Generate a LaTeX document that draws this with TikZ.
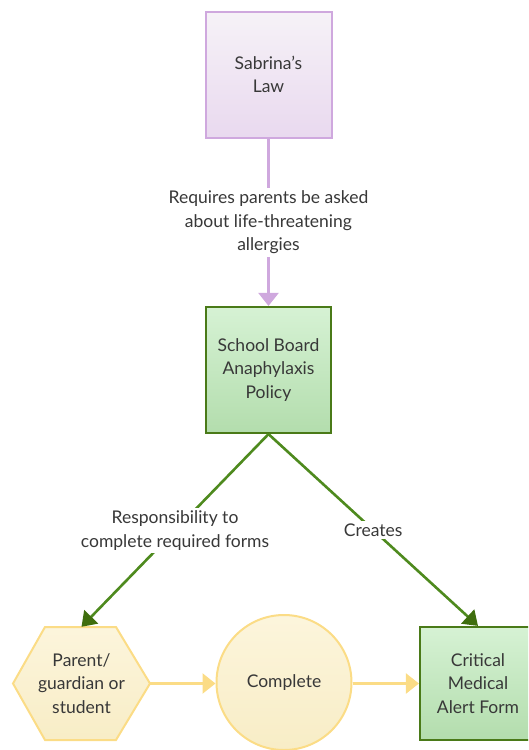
\documentclass[tikz,border=0pt]{standalone}
\usepackage{fontspec}
\setmainfont{Lato}
\usetikzlibrary{arrows.meta,shapes.geometric}

\definecolor{txt}{HTML}{383838}
\definecolor{purpEdge}{HTML}{CFA8DE}
\definecolor{purpTop}{HTML}{F6F2F7}
\definecolor{purpBot}{HTML}{E9D9EF}
\definecolor{grnEdge}{HTML}{4A7A18}
\definecolor{grnLine}{HTML}{4E8A1E}
\definecolor{grnHead}{HTML}{3F6E0E}
\definecolor{grnTop}{HTML}{D6F2D4}
\definecolor{grnBot}{HTML}{B3DDAD}
\definecolor{ylwEdge}{HTML}{FBDC86}
\definecolor{ylwTop}{HTML}{FCF5DC}
\definecolor{ylwBot}{HTML}{F8EDC6}

\tikzset{
  every node/.style={font=\fontsize{17.5}{23.5}\selectfont, text=txt, align=center},
  purplebox/.style={draw=purpEdge, line width=2pt, top color=purpTop, bottom color=purpBot,
    minimum width=126pt, minimum height=126pt, inner sep=0pt},
  greenbox/.style={draw=grnEdge, line width=2.2pt, top color=grnTop, bottom color=grnBot,
    inner sep=0pt},
  edgelabel/.style={fill=white, inner sep=3pt},
  purplearrow/.style={draw=purpEdge, line width=2.5pt,
    -{Triangle[length=13pt,width=20pt,fill=purpEdge]}},
  greenarrow/.style={draw=grnLine, line width=2.6pt,
    -{Triangle[length=14pt,width=19pt,fill=grnHead,color=grnHead]}},
  yellowarrow/.style={draw=ylwEdge, line width=2.5pt,
    -{Triangle[length=13pt,width=20pt,fill=ylwEdge]}},
}

\begin{document}
\begin{tikzpicture}[x=1pt,y=-1pt]
  \useasboundingbox (0,0) rectangle (528,750);
  \clip (0,0) rectangle (528,750);

  % top: the law
  \node[purplebox] (law) at (268.5,74.5) {Sabrina{\char"0027}s\\Law};

  % middle: board policy
  \node[greenbox, minimum width=125pt, minimum height=126pt] (policy) at (268.5,370) {School Board\\Anaphylaxis\\Policy};

  % bottom row: hexagon actor
  \path[draw=ylwEdge, line width=2pt, top color=ylwTop, bottom color=ylwBot]
    (13,683.5) -- (45,627) -- (116,627) -- (150,683.5) -- (116,740) -- (45,740) -- cycle;
  \node[minimum width=137pt, minimum height=113pt, inner sep=0pt] (actor) at (81.5,683.5)
    {Parent/\\guardian or\\student};

  % bottom row: circle step
  \node[circle, draw=ylwEdge, line width=2pt, top color=ylwTop, bottom color=ylwBot,
        minimum size=135pt, inner sep=0pt] (complete) at (284,682.5) {Complete};

  % bottom row: the form
  \node[greenbox, minimum width=116pt, minimum height=113pt] (form) at (478,683.5)
    {Critical\\Medical\\Alert Form};
  \coordinate (formin) at (form.west |- actor.east);

  % connectors
  \draw[purplearrow] (law.south) -- node[edgelabel] {Requires parents be asked\\about life-threatening\\allergies} (policy.north);
  \draw[greenarrow] (policy.south) -- node[edgelabel] {Responsibility to\\complete required forms} (actor.north);
  \draw[greenarrow] (policy.south) -- node[edgelabel] {Creates} (form.north);
  \draw[yellowarrow] (actor.east) -- (complete.west |- actor.east);
  \draw[yellowarrow] (complete.east |- actor.east) -- (formin);
\end{tikzpicture}
\end{document}
